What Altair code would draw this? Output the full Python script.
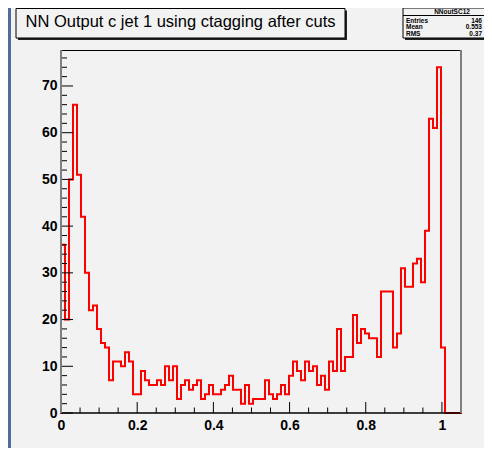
import altair as alt
import pandas as pd

# ---- data ----
counts = [36, 20, 50, 66, 51, 42, 30, 22, 23, 18,
          15, 14, 7, 11, 11, 10, 13, 11, 4, 4,
          9, 7, 6, 6, 7, 6, 10, 7, 10, 3,
          6, 7, 5, 6, 7, 3, 4, 6, 4, 4,
          5, 6, 8, 5, 5, 2, 6, 2, 3, 3,
          3, 7, 4, 3, 4, 6, 4, 8, 11, 9,
          7, 11, 9, 10, 6, 8, 5, 11, 9, 18,
          9, 12, 12, 21, 15, 18, 17, 16, 16, 12,
          26, 26, 26, 14, 17, 31, 27, 27, 32, 33,
          28, 39, 63, 61, 74, 14, 0, 0, 0, 0]
x_range = [0.0, 1.05]
y_max = 77.7
x_labels = [0, 0.2, 0.4, 0.6, 0.8, 1.0]
x_minor = [0.05, 0.1, 0.15, 0.25, 0.3, 0.35, 0.45, 0.5, 0.55, 0.65, 0.7, 0.75,
           0.85, 0.9, 0.95]
y_labels = [0, 10, 20, 30, 40, 50, 60, 70]
y_minor = [v for v in range(2, 77, 2) if v % 10 != 0]
title_text = "NN Output c jet 1 using ctagging after cuts"
stats_name = "NNoutSC12"
stats_keys = ["Entries", "Mean", "RMS"]
stats_vals = ["146", "0.553", "0.37"]

# ---- build step outline ----
nb = len(counts)
bw = (x_range[1] - x_range[0]) / nb
xs, ys = [x_range[0]], [0]
for i, c in enumerate(counts):
    xs += [x_range[0] + i * bw, x_range[0] + (i + 1) * bw]
    ys += [c, c]
xs.append(x_range[1]); ys.append(0)
line_df = pd.DataFrame({"x": xs, "y": ys, "i": list(range(len(xs)))})

W, H = 400, 363
FONT = "Liberation Sans"
BG = "#f2f2f2"

xsc = alt.Scale(domain=x_range, nice=False, zero=False)
ysc = alt.Scale(domain=[0, y_max], nice=False, zero=False)
xaxis = alt.Axis(values=x_labels, format=".1~f", labelFont=FONT, labelFontSize=14,
                 labelFontWeight="bold", labelColor="black", labelPadding=5,
                 ticks=False, domain=False, grid=False, labelFlush=False,
                 labelOverlap=False, title=None)
yaxis = alt.Axis(values=y_labels, labelFont=FONT, labelFontSize=14,
                 labelFontWeight="bold", labelColor="black", labelPadding=4,
                 ticks=False, domain=False, grid=False, labelFlush=False,
                 labelOverlap=False, title=None)
one = pd.DataFrame({"a": [0]})

def rect(x, x2, y, y2, **kw):
    return alt.Chart(one).mark_rect(**kw).encode(
        x=alt.value(x), x2=alt.value(x2), y=alt.value(y), y2=alt.value(y2))

def rule(x, x2, y, y2, **kw):
    return alt.Chart(one).mark_rule(**kw).encode(
        x=alt.value(x), x2=alt.value(x2), y=alt.value(y), y2=alt.value(y2))

def text(t, x, y, **kw):
    return alt.Chart(one).mark_text(**kw).encode(
        x=alt.value(x), y=alt.value(y), text=alt.value(t))

# histogram (carries the axes)
hist = alt.Chart(line_df).mark_line(color="#ff0000", strokeWidth=2, strokeJoin="miter",
                                    strokeCap="square").encode(
    x=alt.X("x:Q", scale=xsc, axis=xaxis),
    y=alt.Y("y:Q", scale=ysc, axis=yaxis),
    order="i:Q")

layers = []
# blue slide strip
layers.append(rect(-53, -50, -42, 398, fill="#4b6e9b"))

# title box
layers.append(rect(-43, 286, -39.5, -10, fill="#222222"))
layers.append(rect(-45, 284, -41.5, -12, fill=BG, stroke="black", strokeWidth=1))
layers.append(text(title_text, 119.5, -28, font=FONT, fontSize=16.5, color="black",
                   align="center", baseline="middle"))

# stats box
layers.append(rect(344, 440, -40, -10, fill="#222222"))
layers.append(rect(342, 440, -42, -12, fill=BG, stroke="black", strokeWidth=1))
layers.append(rule(342, 440, -34.5, -34.5, color="black", strokeWidth=1))
layers.append(text(stats_name, 391, -37.8, font=FONT, fontSize=6.5, fontWeight="bold",
                   color="black", align="center", baseline="middle"))
for k, (key, val) in enumerate(zip(stats_keys, stats_vals)):
    yy = -29.5 + 6.5 * k
    layers.append(text(key, 345, yy, font=FONT, fontSize=6.5, fontWeight="bold",
                       color="black", align="left", baseline="middle"))
    layers.append(text(val, 421, yy, font=FONT, fontSize=6.5, fontWeight="bold",
                       color="black", align="right", baseline="middle"))

layers.append(hist)

# ticks
def yticks(vals, length):
    return alt.Chart(pd.DataFrame({"y": vals})).mark_rule(color="black", strokeWidth=1).encode(
        y=alt.Y("y:Q", scale=ysc, axis=yaxis), x=alt.value(0), x2=alt.value(length))

def xticks(vals, length):
    return alt.Chart(pd.DataFrame({"x": vals})).mark_rule(color="black", strokeWidth=1).encode(
        x=alt.X("x:Q", scale=xsc, axis=xaxis), y=alt.value(H), y2=alt.value(H - length))

layers += [yticks(y_labels, 12), yticks(y_minor, 6), xticks(x_labels, 11), xticks(x_minor, 5.5)]

# frame
layers.append(rule(0, W, 0.5, 0.5, color="black", strokeWidth=1))
layers.append(rule(0, W, H, H, color="black", strokeWidth=1.5))
layers.append(rule(0, 0, 0, H, color="#7f7f7f", strokeWidth=2))
layers.append(rule(W, W, 0, H, color="#7f7f7f", strokeWidth=2))

chart = alt.layer(*layers).properties(
    width=W, height=H,
    autosize=alt.AutoSizeParams(type="none"),
    padding={"left": 53, "top": 42, "right": 23, "bottom": 35},
    background=BG,
).configure_view(stroke=None)

chart.save("out.html", embed_options={"renderer": "svg", "actions": False})
